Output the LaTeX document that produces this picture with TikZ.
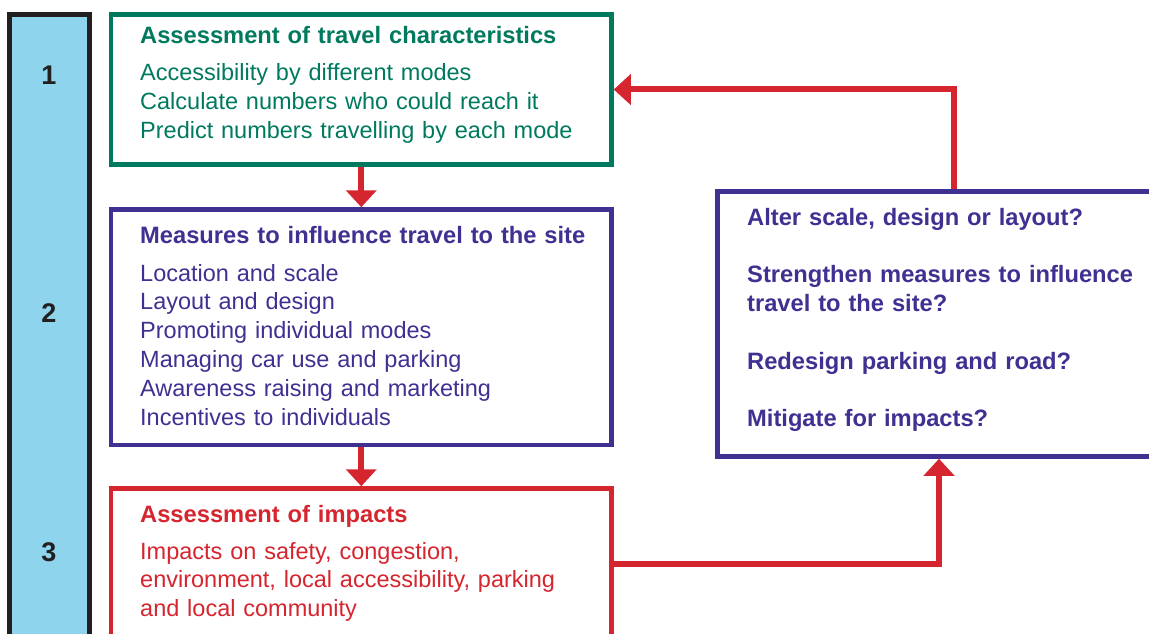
\documentclass[tikz,border=0pt]{standalone}
\usepackage{fontspec}
\setmainfont{Liberation Sans}
\usetikzlibrary{arrows.meta}

\definecolor{stagegreen}{RGB}{0,122,94}
\definecolor{stagepurple}{RGB}{64,48,146}
\definecolor{stagered}{RGB}{213,37,46}
\definecolor{barblue}{RGB}{141,212,236}
\definecolor{barblack}{RGB}{35,31,32}

\tikzset{
  stagebox/.style={draw, line width=4.5pt, fill=white, inner sep=0pt, rectangle},
  bodytext/.style={anchor=base west, inner sep=0pt, text width=470pt, align=left,
    font=\fontsize{23.5}{28.8}\selectfont},
  headtext/.style={bodytext, font=\fontsize{23.7}{28.8}\selectfont\bfseries},
  stagenum/.style={inner sep=0pt, font=\fontsize{27}{30}\selectfont\bfseries, text=barblack},
  flow/.style={draw=stagered, line width=6pt,
    -{Triangle[width=30pt,length=17pt]}},
}

\begin{document}
\begin{tikzpicture}[x=1pt,y=-1pt]
\useasboundingbox (0,0) rectangle (1149,634);
\clip (0,0) rectangle (1149,634);

% stage bar on the left (anchors sit on the outer edge of the stroke)
\node[stagebox, draw=barblack, fill=barblue, anchor=north west,
      minimum width=80pt, minimum height=700pt] (bar) at (7.25,12.25) {};
\node[stagenum] (n1) at (49,75.5) {1};
\node[stagenum] (n2) at (49,313) {2};
\node[stagenum] (n3) at (49,552) {3};

% stage boxes
\node[stagebox, draw=stagegreen, anchor=north west,
      minimum width=500.5pt, minimum height=150pt] (b1) at (108.75,12.25) {};
\node[stagebox, draw=stagepurple, anchor=north west,
      minimum width=500.5pt, minimum height=235.5pt] (b2) at (108.75,207.25) {};
\node[stagebox, draw=stagered, anchor=north west,
      minimum width=500.5pt, minimum height=300pt] (b3) at (108.75,486.25) {};
\node[stagebox, draw=stagepurple, anchor=north west,
      minimum width=600pt, minimum height=265pt] (b4) at (715.25,189.25) {};

% box texts
\node[headtext, text=stagegreen] (t1h) at (140,44) {Assessment of travel characteristics};
\node[bodytext, text=stagegreen] (t1b) at (140,81)
  {Accessibility by different modes\\
   Calculate numbers who could reach it\\
   Predict numbers travelling by each mode};

\node[headtext, text=stagepurple] (t2h) at (140,243) {Measures to influence travel to the site};
\node[bodytext, text=stagepurple] (t2b) at (140,281)
  {Location and scale\\
   Layout and design\\
   Promoting individual modes\\
   Managing car use and parking\\
   Awareness raising and marketing\\
   Incentives to individuals};

\node[headtext, text=stagered] (t3h) at (140,522) {Assessment of impacts};
\node[bodytext, text=stagered] (t3b) at (140,559)
  {Impacts on safety, congestion,\\
   environment, local accessibility, parking\\
   and local community};

\node[headtext, text=stagepurple, text width=400pt] (t4) at (747,225)
  {Alter scale, design or layout?\\[28.8pt]
   Strengthen measures to influence\\
   travel to the site?\\[28.8pt]
   Redesign parking and road?\\[28.8pt]
   Mitigate for impacts?};

% connectors
\draw[flow] (b1.south) -- (b2.north);
\draw[flow] (b2.south) -- (b3.north);
\coordinate (lowturn) at (939,564);
\coordinate (highturn) at (954,89.5);
\draw[flow] (lowturn -| b3.east) -- (lowturn) -- (lowturn |- b4.south);
\draw[flow] (highturn |- b4.north) -- (highturn) -- (highturn -| b1.east);
\end{tikzpicture}
\end{document}
